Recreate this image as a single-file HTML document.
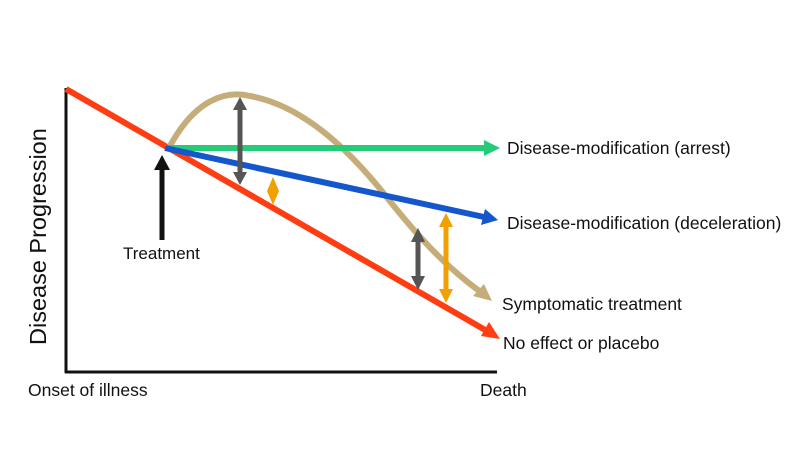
<!DOCTYPE html>
<html><head><style>body{margin:0;background:#fff}svg{display:block}text{font-family:"Liberation Sans",sans-serif;fill:#111}</style></head><body>
<svg width="800" height="464" viewBox="0 0 800 464">
<line x1="66" y1="88" x2="66" y2="373" stroke="#111" stroke-width="3"/>
<line x1="65" y1="372" x2="497" y2="372" stroke="#111" stroke-width="3"/>
<!-- red -->
<line x1="66" y1="89" x2="487" y2="331" stroke="#ff3d12" stroke-width="6"/>
<path d="M500,339 L481,336 L489,322 z" fill="#ff3d12"/>
<!-- tan curve -->
<path d="M170,146 C195,100 225,90 250,96 C300,105 345,145 385,195 C422,242 450,270 482,293" fill="none" stroke="#c4ad78" stroke-width="6"/>
<path d="M492,301 L473,296 L484,284 z" fill="#c4ad78"/>
<!-- green -->
<line x1="165" y1="148" x2="485" y2="148" stroke="#25cc78" stroke-width="6"/>
<path d="M500,148 L484,140 L484,156 z" fill="#25cc78"/>
<!-- blue -->
<line x1="165" y1="148" x2="484" y2="217" stroke="#1456cc" stroke-width="6"/>
<path d="M498,220 L481,225 L485,209 z" fill="#1456cc"/>
<!-- treatment arrow -->
<line x1="162" y1="240" x2="162" y2="165" stroke="#111" stroke-width="5"/>
<path d="M162,155 L154,170 L170,170 z" fill="#111"/>
<!-- gray arrows -->
<line x1="240" y1="108" x2="240" y2="174" stroke="#555" stroke-width="5"/>
<path d="M240,97 L233,110 L247,110 z M240,185 L233,172 L247,172 z" fill="#555"/>
<line x1="418" y1="240" x2="418" y2="278" stroke="#555" stroke-width="5"/>
<path d="M418,228 L411,242 L425,242 z M418,290 L411,276 L425,276 z" fill="#555"/>
<!-- orange -->
<path d="M273,177 L279,191 L273,205 L267,191 z" fill="#f0a000"/>
<line x1="446" y1="224" x2="446" y2="292" stroke="#f0a000" stroke-width="5"/>
<path d="M446,213 L439,227 L453,227 z M446,303 L439,289 L453,289 z" fill="#f0a000"/>
<text x="507" y="154" font-size="17.5">Disease-modification (arrest)</text>
<text x="507" y="229" font-size="17.5">Disease-modification (deceleration)</text>
<text x="502" y="310" font-size="17.5">Symptomatic treatment</text>
<text x="503" y="349" font-size="17.5">No effect or placebo</text>
<text x="123" y="259" font-size="17">Treatment</text>
<text x="28" y="396" font-size="17.5">Onset of illness</text>
<text x="480" y="396" font-size="17.5">Death</text>
<text transform="translate(46,345) rotate(-90)" font-size="23.5">Disease Progression</text>
</svg>
</body></html>
